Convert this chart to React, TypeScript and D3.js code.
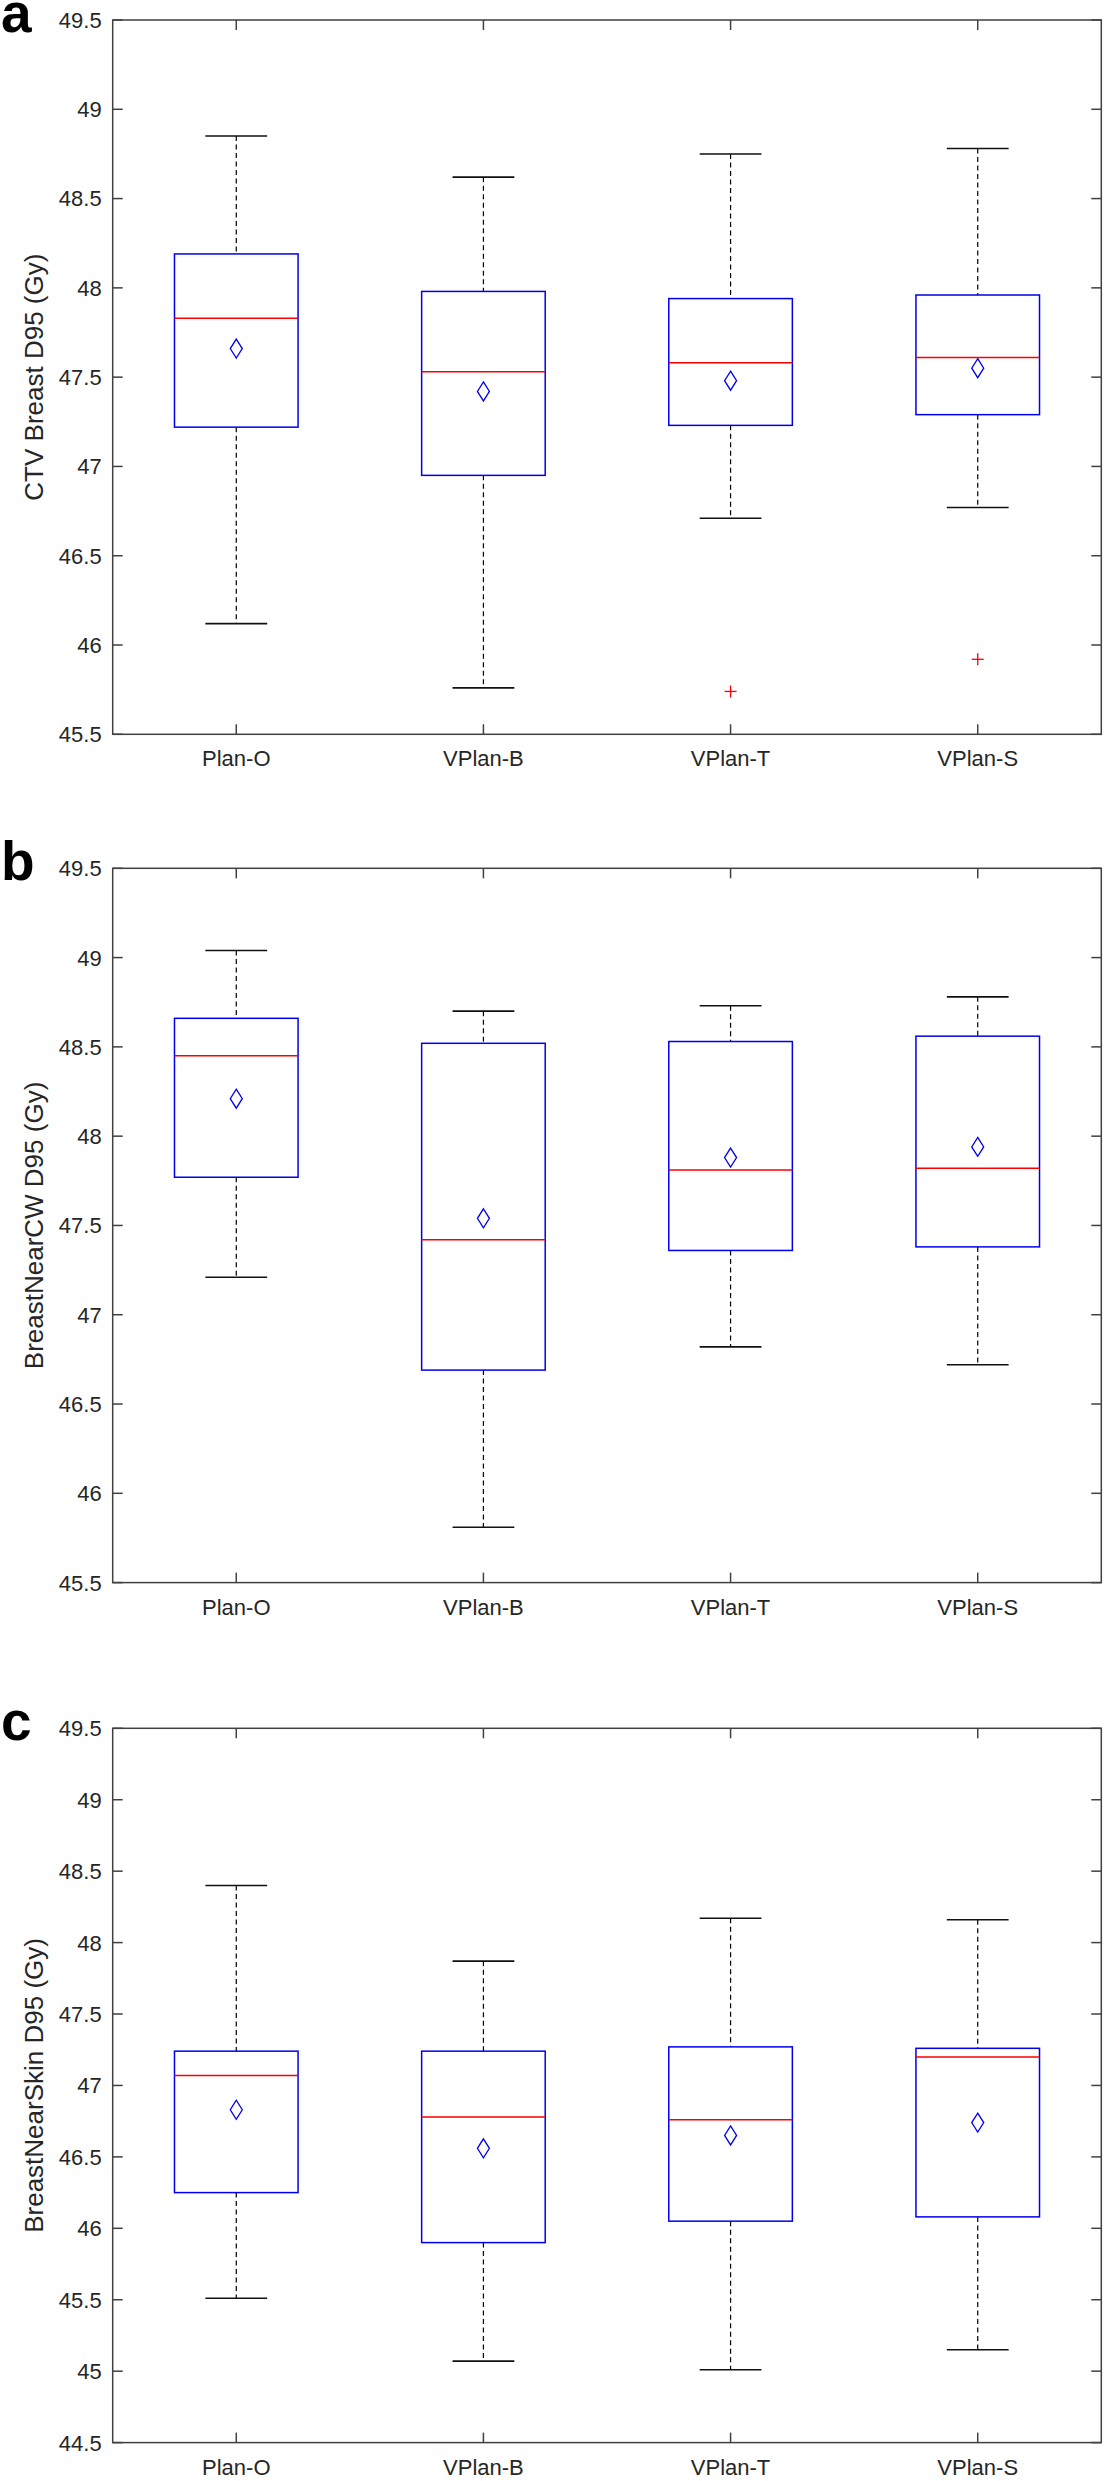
import React from "react";
import * as d3 from "d3";

const categories = ["Plan-O", "VPlan-B", "VPlan-T", "VPlan-S"];
const panelLetters = ["a", "b", "c"];
const yLabels = ["CTV Breast D95 (Gy)", "BreastNearCW D95 (Gy)", "BreastNearSkin D95 (Gy)"];
const yDomains = [[45.5, 49.5], [45.5, 49.5], [44.5, 49.5]];

// Panel a: CTV Breast D95
const aUpper = [48.85, 48.62, 48.75, 48.78];
const aQ3 = [48.19, 47.98, 47.94, 47.96];
const aMedian = [47.83, 47.53, 47.58, 47.61];
const aMean = [47.66, 47.42, 47.48, 47.55];
const aQ1 = [47.22, 46.95, 47.23, 47.29];
const aLower = [46.12, 45.76, 46.71, 46.77];
const aOutliers = [[], [], [45.74], [45.92]];

// Panel b: BreastNearCW D95
const bUpper = [49.04, 48.70, 48.73, 48.78];
const bQ3 = [48.66, 48.52, 48.53, 48.56];
const bMedian = [48.45, 47.42, 47.81, 47.82];
const bMean = [48.21, 47.54, 47.88, 47.94];
const bQ1 = [47.77, 46.69, 47.36, 47.38];
const bLower = [47.21, 45.81, 46.82, 46.72];
const bOutliers = [[], [], [], []];

// Panel c: BreastNearSkin D95
const cUpper = [48.40, 47.87, 48.17, 48.16];
const cQ3 = [47.24, 47.24, 47.27, 47.26];
const cMedian = [47.07, 46.78, 46.76, 47.20];
const cMean = [46.83, 46.56, 46.65, 46.74];
const cQ1 = [46.25, 45.90, 46.05, 46.08];
const cLower = [45.51, 45.07, 45.01, 45.15];
const cOutliers = [[], [], [], []];

const panels = [
  { upper: aUpper, q3: aQ3, median: aMedian, mean: aMean, q1: aQ1, lower: aLower, outliers: aOutliers },
  { upper: bUpper, q3: bQ3, median: bMedian, mean: bMean, q1: bQ1, lower: bLower, outliers: bOutliers },
  { upper: cUpper, q3: cQ3, median: cMedian, mean: cMean, q1: cQ1, lower: cLower, outliers: cOutliers },
];

const W = 1105;
const H = 2481;
const LEFT = 112.7;
const RIGHT = 1101.3;
const TOPS = [20, 868.3, 1728.3];
const PH = 714.3;
const FONT = "'Liberation Sans', Arial, Helvetica, sans-serif";
const AX = "#404040";
const TXT = "#262626";
const TICK = 10;

function Panel({ idx }: { idx: number }) {
  const top = TOPS[idx];
  const bottom = top + PH;
  const d = panels[idx];
  const [y0, y1] = yDomains[idx];
  const x = d3.scaleLinear().domain([0.5, 4.5]).range([LEFT, RIGHT]);
  const y = d3.scaleLinear().domain([y0, y1]).range([bottom, top]);
  const yTicks = d3.range(y0, y1 + 0.001, 0.5);
  const boxHalf = x(1.25) - x(1);
  const capHalf = x(1.125) - x(1);
  return (
    <g>
      <text x={1} y={top + 12} fontFamily={FONT} fontWeight="bold" fontSize={55} fill="#000">
        {panelLetters[idx]}
      </text>
      <text
        transform={`translate(${42.5},${(top + bottom) / 2}) rotate(-90)`}
        textAnchor="middle"
        fontFamily={FONT}
        fontSize={26}
        fill={TXT}
      >
        {yLabels[idx]}
      </text>
      {yTicks.map((t) => (
        <g key={"yt" + t}>
          <line x1={LEFT} x2={LEFT + TICK} y1={y(t)} y2={y(t)} stroke={AX} strokeWidth={1.5} />
          <line x1={RIGHT - TICK} x2={RIGHT} y1={y(t)} y2={y(t)} stroke={AX} strokeWidth={1.5} />
          <text x={LEFT - 11} y={y(t)} dy="0.36em" textAnchor="end" fontFamily={FONT} fontSize={22} fill={TXT}>
            {String(+t.toFixed(1))}
          </text>
        </g>
      ))}
      {categories.map((c, i) => (
        <g key={"xt" + c}>
          <line x1={x(i + 1)} x2={x(i + 1)} y1={bottom} y2={bottom - TICK} stroke={AX} strokeWidth={1.5} />
          <line x1={x(i + 1)} x2={x(i + 1)} y1={top} y2={top + TICK} stroke={AX} strokeWidth={1.5} />
          <text x={x(i + 1)} y={bottom + 32} textAnchor="middle" fontFamily={FONT} fontSize={22} fill={TXT}>
            {c}
          </text>
        </g>
      ))}
      {categories.map((c, i) => {
        const cx = x(i + 1);
        const my = y(d.mean[i]);
        return (
          <g key={"box" + c}>
            <line x1={cx} x2={cx} y1={y(d.upper[i])} y2={y(d.q3[i])} stroke="#000" strokeWidth={1.2} strokeDasharray="5,3.5" />
            <line x1={cx} x2={cx} y1={y(d.q1[i])} y2={y(d.lower[i])} stroke="#000" strokeWidth={1.2} strokeDasharray="5,3.5" />
            <line x1={cx - capHalf} x2={cx + capHalf} y1={y(d.upper[i])} y2={y(d.upper[i])} stroke="#111" strokeWidth={1.6} />
            <line x1={cx - capHalf} x2={cx + capHalf} y1={y(d.lower[i])} y2={y(d.lower[i])} stroke="#111" strokeWidth={1.6} />
            <rect
              x={cx - boxHalf}
              y={y(d.q3[i])}
              width={boxHalf * 2}
              height={y(d.q1[i]) - y(d.q3[i])}
              fill="none"
              stroke="#0000ee"
              strokeWidth={1.5}
            />
            <line x1={cx - boxHalf} x2={cx + boxHalf} y1={y(d.median[i])} y2={y(d.median[i])} stroke="#ff0000" strokeWidth={1.5} />
            <path
              d={`M${cx},${my - 9.5}L${cx + 6},${my}L${cx},${my + 9.5}L${cx - 6},${my}Z`}
              fill="none"
              stroke="#0000ee"
              strokeWidth={1.3}
            />
            {d.outliers[i].map((o, k) => (
              <g key={"o" + k}>
                <line x1={cx - 6} x2={cx + 6} y1={y(o)} y2={y(o)} stroke="#ff0000" strokeWidth={1.3} />
                <line x1={cx} x2={cx} y1={y(o) - 6} y2={y(o) + 6} stroke="#ff0000" strokeWidth={1.3} />
              </g>
            ))}
          </g>
        );
      })}
      <rect x={LEFT} y={top} width={RIGHT - LEFT} height={PH} fill="none" stroke={AX} strokeWidth={1.5} />
    </g>
  );
}

export default function App() {
  return (
    <svg
      width={W}
      height={H}
      viewBox={`0 0 ${W} ${H}`}
      style={{ position: "absolute", left: 0, top: 0, background: "#fff" }}
    >
      <rect x={0} y={0} width={W} height={H} fill="#fff" />
      {panels.map((_, i) => (
        <Panel key={i} idx={i} />
      ))}
    </svg>
  );
}
